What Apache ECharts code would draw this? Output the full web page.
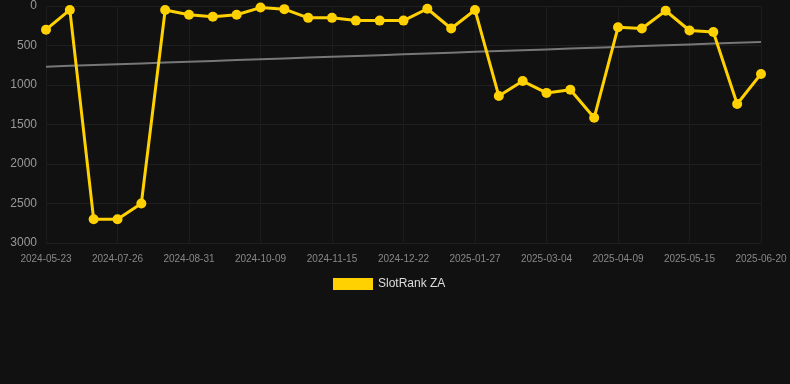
<!DOCTYPE html>
<html>
<head>
<meta charset="utf-8">
<script src="https://cdn.jsdelivr.net/npm/echarts@6/dist/echarts.min.js"></script>
<style>
  html, body { margin: 0; padding: 0; background: #111111; }
  #chart { width: 790px; height: 384px; }
</style>
</head>
<body>
<div id="chart"></div>
<script>
// dates (category axis, every third one is labelled)
const dates = [
  '2024-05-23', '2024-06-14', '2024-07-04', '2024-07-26', '2024-08-07', '2024-08-19',
  '2024-08-31', '2024-09-12', '2024-09-25', '2024-10-09', '2024-10-21', '2024-11-03',
  '2024-11-15', '2024-11-27', '2024-12-10', '2024-12-22', '2025-01-03', '2025-01-15',
  '2025-01-27', '2025-02-08', '2025-02-20', '2025-03-04', '2025-03-16', '2025-03-28',
  '2025-04-09', '2025-04-21', '2025-05-03', '2025-05-15', '2025-05-27', '2025-06-08',
  '2025-06-20'
];
// rank values
const rankZA = [
  300, 50, 2700, 2700, 2500, 50, 110, 135, 110, 20, 40, 150, 150, 185, 185, 185,
  35, 285, 50, 1140, 950, 1100, 1060, 1415, 270, 285, 60, 310, 330, 1240, 860
];
const yTicks = [0, 500, 1000, 1500, 2000, 2500, 3000];

// linear trend (least squares)
const trend = (() => {
  const n = rankZA.length;
  let sx = 0, sy = 0, sxy = 0, sxx = 0;
  rankZA.forEach((v, i) => { sx += i; sy += v; sxy += i * v; sxx += i * i; });
  const k = (n * sxy - sx * sy) / (n * sxx - sx * sx);
  const b = (sy - k * sx) / n;
  return rankZA.map((v, i) => +(b + k * i).toFixed(1));
})();

const font = 'Liberation Sans, Arial, sans-serif';

const chart = echarts.init(document.getElementById('chart'));
chart.setOption({
  backgroundColor: '#111111',
  animation: false,
  grid: { left: 46, right: 29, top: 6, bottom: 141 },
  legend: {
    top: 273,
    left: 328,
    itemWidth: 40,
    itemHeight: 12,
    itemGap: 10,
    icon: 'rect',
    data: ['SlotRank ZA'],
    textStyle: { color: '#dddddd', fontSize: 12, fontFamily: font }
  },
  xAxis: {
    type: 'category',
    data: dates,
    boundaryGap: false,
    axisLine: { show: false },
    axisTick: { show: false },
    axisLabel: {
      interval: 2,
      color: '#888888',
      fontSize: 10,
      margin: 11,
      fontFamily: font
    },
    splitLine: { show: true, interval: 2, lineStyle: { color: '#1c1c1c', width: 1 } }
  },
  yAxis: {
    type: 'value',
    inverse: true,
    min: yTicks[0],
    max: yTicks[yTicks.length - 1],
    interval: 500,
    axisLine: { show: false },
    axisTick: { show: false },
    axisLabel: {
      color: '#999999',
      fontSize: 12,
      margin: 9,
      fontFamily: font,
      formatter: (v) => String(v)
    },
    splitLine: { lineStyle: { color: '#1f1f1f', width: 1 } }
  },
  series: [
    {
      name: 'SlotRank ZA',
      type: 'line',
      data: rankZA,
      color: '#ffd100',
      symbol: 'circle',
      symbolSize: 10,
      lineStyle: { width: 3, color: '#ffd100' },
      itemStyle: { color: '#ffd100' },
      z: 3
    },
    {
      name: 'trend',
      type: 'line',
      data: trend,
      symbol: 'none',
      lineStyle: { width: 2, color: '#777777' },
      z: 2
    }
  ]
});
</script>
</body>
</html>
